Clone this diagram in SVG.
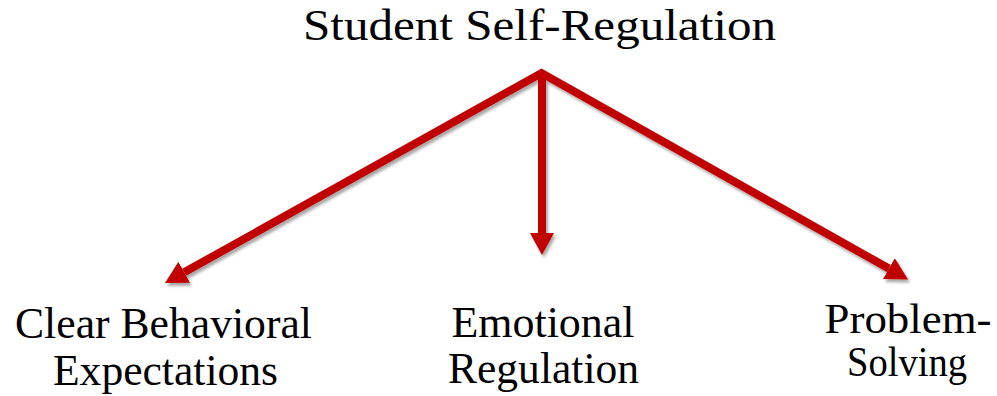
<svg xmlns="http://www.w3.org/2000/svg" width="997" height="396" viewBox="0 0 997 396">
  <style>
    .lbl { font-family: "Liberation Serif", "Times New Roman", serif; font-size: 45px; fill: #000; text-anchor: middle; }
    .sm { font-size: 42px; }
    .conn { fill: none; stroke: #C00000; stroke-width: 8; stroke-linejoin: miter; }
  </style>
  <defs>
    <filter id="shadow" x="-10%" y="-10%" width="120%" height="130%">
      <feDropShadow dx="2" dy="3" stdDeviation="1.8" flood-color="#000" flood-opacity="0.35"/>
    </filter>
    <marker id="head" viewBox="0 0 22 24" markerWidth="22" markerHeight="24" refX="0" refY="12" orient="auto-start-reverse" markerUnits="userSpaceOnUse">
      <path d="M0,0 L22,12 L0,24 z" fill="#C00000"/>
    </marker>
  </defs>
  <rect width="997" height="396" fill="#fff"/>
  <g id="connectors" filter="url(#shadow)">
    <path class="conn" d="M184.2,272.3 L541.5,73 L888.9,268.6" marker-start="url(#head)" marker-end="url(#head)"/>
    <path class="conn" d="M542,76 L542,233" marker-end="url(#head)"/>
  </g>
  <g id="node-root">
    <text class="lbl" x="539.5" y="40" textLength="473" lengthAdjust="spacingAndGlyphs">Student Self-Regulation</text>
  </g>
  <g id="node-clear">
    <text class="lbl" x="163.5" y="338" textLength="297" lengthAdjust="spacingAndGlyphs">Clear Behavioral</text>
    <text class="lbl" x="165.5" y="385" textLength="225" lengthAdjust="spacingAndGlyphs">Expectations</text>
  </g>
  <g id="node-emotional">
    <text class="lbl" x="543" y="337" textLength="183" lengthAdjust="spacingAndGlyphs">Emotional</text>
    <text class="lbl" x="543.5" y="383" textLength="191" lengthAdjust="spacingAndGlyphs">Regulation</text>
  </g>
  <g id="node-problem">
    <text class="lbl sm" x="908" y="333" textLength="167" lengthAdjust="spacingAndGlyphs">Problem-</text>
    <text class="lbl sm" x="907" y="376" textLength="120" lengthAdjust="spacingAndGlyphs">Solving</text>
  </g>
</svg>
